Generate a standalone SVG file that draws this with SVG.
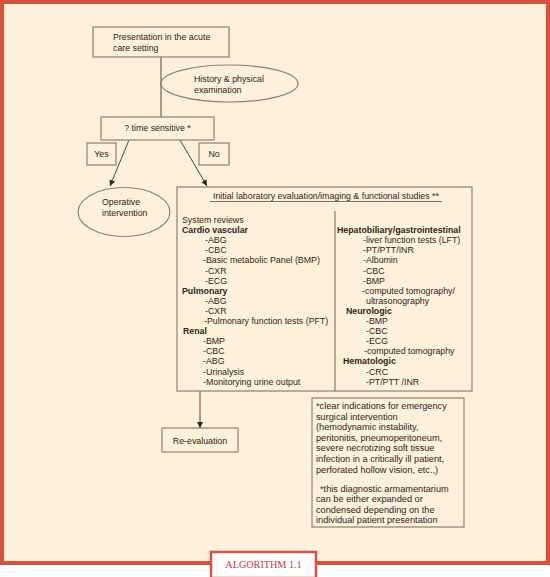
<svg xmlns="http://www.w3.org/2000/svg" width="550" height="577" viewBox="0 0 550 577">
<defs>
<style>
.t{font-family:"Liberation Sans",Arial,sans-serif;font-size:8.8px;fill:#2a2622}
.b{font-weight:bold}
.m{text-anchor:middle}
.box{fill:none;stroke:#8a8070;stroke-width:1.2}
.ln{fill:none;stroke:#4a4540;stroke-width:1}
.fn{font-size:9.2px}
</style>
<marker id="ah" viewBox="0 0 10 10" refX="10" refY="5" markerWidth="6" markerHeight="6" orient="auto" markerUnits="userSpaceOnUse">
<path d="M0,0 L10,5 L0,10 z" fill="#2a2622"/>
</marker>
</defs>
<rect x="0" y="0" width="550" height="577" fill="#ffffff"/>
<rect x="2" y="2" width="546" height="561" fill="#fdf1dc" stroke="#d9513a" stroke-width="4"/>

<g id="connectors">
<line class="ln" x1="161" y1="57" x2="161" y2="117"/>
<line class="ln" x1="129" y1="140" x2="110" y2="186" marker-end="url(#ah)"/>
<line class="ln" x1="180" y1="140" x2="207" y2="186" marker-end="url(#ah)"/>
<line class="ln" x1="200" y1="391" x2="200" y2="428" marker-end="url(#ah)"/>
</g>

<g id="presentation">
<rect class="box" x="93" y="27" width="136" height="30"/>
<text class="t" x="113" y="40">Presentation in the acute</text>
<text class="t" x="113" y="50.5">care setting</text>
</g>

<g id="history">
<ellipse class="box" cx="229.5" cy="83.5" rx="68.5" ry="18.5" fill="#fdf1dc"/>
<text class="t" x="194" y="82">History &amp; physical</text>
<text class="t" x="194" y="92.5">examination</text>
</g>

<g id="time-sensitive">
<rect class="box" x="101" y="117" width="113" height="23"/>
<text class="t m" x="157.5" y="131">? time sensitive *</text>
</g>

<g id="yes">
<rect class="box" x="87" y="143" width="29" height="22"/>
<text class="t m" x="101.5" y="157">Yes</text>
</g>

<g id="no">
<rect class="box" x="199" y="143" width="30" height="22"/>
<text class="t m" x="214" y="157">No</text>
</g>

<g id="operative">
<ellipse class="box" cx="124" cy="212" rx="46" ry="24.5"/>
<text class="t" x="102" y="205">Operative</text>
<text class="t" x="102" y="215.5">intervention</text>
</g>

<g id="initial-evaluation">
<rect class="box" x="177" y="187" width="295" height="204"/>
<text class="t m" x="326" y="199">Initial laboratory evaluation/imaging &amp; functional studies **</text>
<line x1="210" y1="201.5" x2="442" y2="201.5" stroke="#6a6258" stroke-width="0.9"/>
<line x1="335" y1="211" x2="335" y2="391" stroke="#6a6258" stroke-width="1"/>
<text class="t" x="182" y="223">System reviews</text>
<text class="t b" x="182" y="233.1">Cardio vascular</text>
<text class="t" x="205" y="243.2">-ABG</text>
<text class="t" x="205" y="253.3">-CBC</text>
<text class="t" x="203" y="263.4">-Basic metabolic Panel (BMP)</text>
<text class="t" x="205" y="273.5">-CXR</text>
<text class="t" x="205" y="283.6">-ECG</text>
<text class="t b" x="182" y="293.7">Pulmonary</text>
<text class="t" x="205" y="303.8">-ABG</text>
<text class="t" x="205" y="313.9">-CXR</text>
<text class="t" x="204" y="324">-Pulmonary function tests (PFT)</text>
<text class="t b" x="183" y="334.1">Renal</text>
<text class="t" x="203" y="344.2">-BMP</text>
<text class="t" x="203" y="354.3">-CBC</text>
<text class="t" x="203" y="364.4">-ABG</text>
<text class="t" x="203" y="374.5">-Urinalysis</text>
<text class="t" x="203" y="384.6">-Monitorying urine output</text>

<text class="t b" x="337" y="233.1">Hepatobiliary/gastrointestinal</text>
<text class="t" x="363" y="243.2">-liver function tests (LFT)</text>
<text class="t" x="363" y="253.3">-PT/PTT/INR</text>
<text class="t" x="363" y="263.4">-Albumin</text>
<text class="t" x="363" y="273.5">-CBC</text>
<text class="t" x="363" y="283.6">-BMP</text>
<text class="t" x="362" y="293.7">-computed tomography/</text>
<text class="t" x="366" y="303.8">ultrasonography</text>
<text class="t b" x="346" y="313.9">Neurologic</text>
<text class="t" x="366" y="324">-BMP</text>
<text class="t" x="366" y="334.1">-CBC</text>
<text class="t" x="366" y="344.2">-ECG</text>
<text class="t" x="364" y="354.3">-computed tomography</text>
<text class="t b" x="343" y="364.4">Hematologic</text>
<text class="t" x="366" y="374.5">-CRC</text>
<text class="t" x="366" y="384.6">-PT/PTT /INR</text>
</g>

<g id="re-evaluation">
<rect class="box" x="162" y="428" width="76" height="24"/>
<text class="t m" x="200" y="443.5">Re-evaluation</text>
</g>

<g id="footnotes">
<rect class="box" x="312" y="398" width="152" height="129"/>
<text class="t fn" x="316" y="409">*clear indications for emergency</text>
<text class="t fn" x="316" y="419.6">surgical intervention</text>
<text class="t fn" x="316" y="430.2">(hemodynamic instability,</text>
<text class="t fn" x="316" y="440.8">peritonitis, pneumoperitoneum,</text>
<text class="t fn" x="316" y="451.4">severe necrotizing soft tissue</text>
<text class="t fn" x="316" y="462">infection in a critically ill patient,</text>
<text class="t fn" x="316" y="472.6">perforated hollow vision, etc.,)</text>
<text class="t fn" x="320" y="491.5">*this diagnostic armamentarium</text>
<text class="t fn" x="316" y="502">can be either expanded or</text>
<text class="t fn" x="316" y="512.5">condensed depending on the</text>
<text class="t fn" x="316" y="523">individual patient presentation</text>
</g>

<g id="label">
<rect x="211" y="552" width="105" height="26" fill="#ffffff" stroke="#d9513a" stroke-width="2.5"/>
<text x="263.5" y="568" text-anchor="middle" font-family="'Liberation Serif','Times New Roman',serif" font-size="10.2" fill="#c4403a">ALGORITHM 1.1</text>
</g>
</svg>
